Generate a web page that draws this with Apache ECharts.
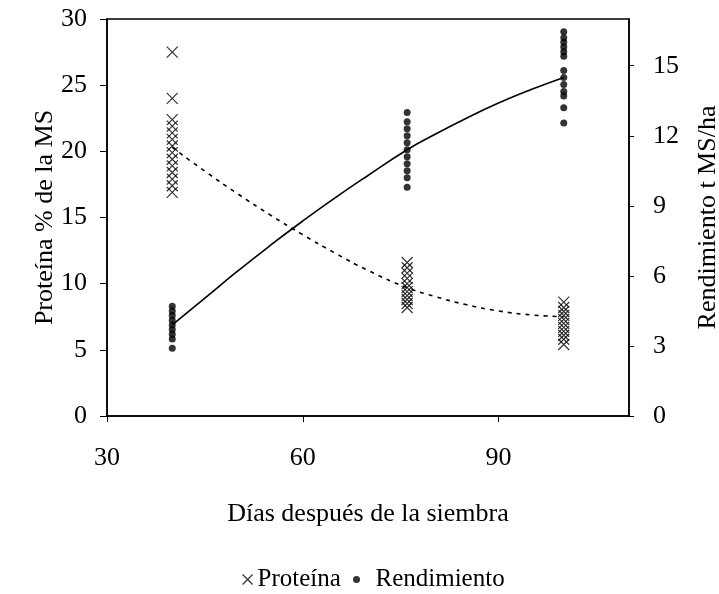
<!DOCTYPE html>
<html>
<head>
<meta charset="utf-8">
<script src="https://cdn.jsdelivr.net/npm/echarts@6/dist/echarts.min.js"></script>
<style>
  html, body { margin: 0; padding: 0; background: #fff; }
  #chart { width: 719px; height: 594px; }
</style>
</head>
<body>
<div id="chart"></div>
<script>
// Sampling days (x positions of the measurement clusters)
const days = [40, 76, 100];

// Crude protein, % of dry matter (left axis), one list per sampling day
const proteina40 = [27.5, 24.0, 22.4, 21.9, 21.4, 20.9, 20.4, 19.9, 19.4, 18.9, 18.4, 17.9, 17.4, 16.9];
const proteina76 = [11.6, 11.2, 10.8, 10.4, 10.0, 9.7, 9.4, 9.1, 8.8, 8.5, 8.2];
const proteina100 = [8.6, 8.2, 7.9, 7.6, 7.3, 7.0, 6.7, 6.4, 6.1, 5.8, 5.4];

// Dry-matter yield, t MS/ha (right axis)
const rendimiento40 = [4.7, 4.5, 4.3, 4.1, 3.9, 3.7, 3.5, 3.3, 2.9];
const rendimiento76 = [13.0, 12.6, 12.3, 12.0, 11.7, 11.4, 11.1, 10.8, 10.5, 10.2, 9.8];
const rendimiento100 = [16.45, 16.2, 16.0, 15.8, 15.6, 15.4, 14.8, 14.5, 14.2, 13.9, 13.7, 13.2, 12.55];

// Fitted trend curves
const trendDays = [40, 45, 50, 55, 60, 65, 70, 76, 80, 85, 90, 95, 100];
const proteinaTrend = [20.3, 18.5, 16.8, 15.2, 13.7, 12.3, 11.0, 9.7, 9.07, 8.42, 7.94, 7.64, 7.5];
const rendimientoTrend = [3.9, 5.05, 6.2, 7.3, 8.35, 9.35, 10.3, 11.4, 12.02, 12.74, 13.4, 13.98, 14.5];

// Axis tick values
const xTicks = [30, 60, 90];
const leftTicks = [0, 5, 10, 15, 20, 25, 30];
const rightTicks = [0, 3, 6, 9, 12, 15];

const toPoints = (groups) => {
  const pts = [];
  groups.forEach((vals, i) => vals.forEach(v => pts.push([days[i], v])));
  return pts;
};
const zip = (xs, ys) => xs.map((x, i) => [x, ys[i]]);

const FONT = '"Liberation Serif", "DejaVu Serif", serif';
const AXIS_FONT = 26;
const crossPath = 'path://M0,0L10,10M10,0L0,10';
const crossStyle = { color: 'transparent', borderColor: '#000', borderWidth: 1.2 };

const chart = echarts.init(document.getElementById('chart'), null, { renderer: 'canvas' });

chart.setOption({
  animation: false,
  backgroundColor: '#fff',
  textStyle: { fontFamily: FONT, color: '#000' },
  grid: {
    left: 107, right: 90, top: 19, bottom: 178,
    outerBoundsMode: 'none',
    containLabel: false,
    show: true, borderColor: '#000', borderWidth: 1.5, backgroundColor: 'transparent'
  },
  legend: [
    {
      left: 237, top: 562,
      itemWidth: 10, itemHeight: 10,
      textStyle: { fontFamily: FONT, fontSize: 25, color: '#000' },
      data: [{ name: 'Proteína', icon: crossPath, itemStyle: crossStyle }]
    },
    {
      left: 348, top: 562,
      itemWidth: 28, itemHeight: 7,
      textStyle: { fontFamily: FONT, fontSize: 25, color: '#000' },
      data: [{ name: 'Rendimiento', icon: 'circle', itemStyle: { color: '#000' } }]
    }
  ],
  xAxis: {
    type: 'value',
    min: 30, max: 110, interval: 30,
    name: 'Días después de la siembra',
    nameLocation: 'middle',
    nameGap: 85,
    nameTextStyle: { fontFamily: FONT, fontSize: AXIS_FONT, color: '#000' },
    axisLine: { show: true, lineStyle: { color: '#000', width: 1.5 } },
    axisTick: { show: true, length: 6, lineStyle: { color: '#000' } },
    axisLabel: {
      fontFamily: FONT, fontSize: AXIS_FONT, color: '#000', margin: 29,
      showMaxLabel: false,
      formatter: v => (xTicks.includes(v) ? String(v) : '')
    },
    splitLine: { show: false }
  },
  yAxis: [
    {
      type: 'value',
      min: 0, max: 30, interval: 5,
      name: 'Proteína % de la MS',
      nameLocation: 'middle',
      nameRotate: 90,
      nameGap: 49,
      nameMoveOverlap: false,
      nameTextStyle: { fontFamily: FONT, fontSize: AXIS_FONT, color: '#000' },
      axisLine: { show: true, lineStyle: { color: '#000', width: 1.5 } },
      axisTick: { show: true, length: 7, lineStyle: { color: '#000' } },
      axisLabel: {
        fontFamily: FONT, fontSize: AXIS_FONT, color: '#000', margin: 20,
        formatter: v => (leftTicks.includes(v) ? String(v) : '')
      },
      splitLine: { show: false }
    },
    {
      type: 'value',
      position: 'right',
      min: 0, max: 17, interval: 3,
      name: 'Rendimiento t MS/ha',
      nameLocation: 'middle',
      nameRotate: 90,
      nameGap: 66,
      nameTextStyle: { fontFamily: FONT, fontSize: AXIS_FONT, color: '#000' },
      axisLine: { show: true, lineStyle: { color: '#000', width: 1.5 } },
      axisTick: { show: true, length: 5, lineStyle: { color: '#000' } },
      axisLabel: {
        fontFamily: FONT, fontSize: AXIS_FONT, color: '#000', margin: 24,
        showMaxLabel: false,
        formatter: v => (rightTicks.includes(v) ? String(v) : '')
      },
      splitLine: { show: false }
    }
  ],
  series: [
    {
      name: 'Proteína',
      type: 'scatter',
      yAxisIndex: 0,
      symbol: crossPath,
      symbolSize: 11,
      itemStyle: crossStyle,
      data: toPoints([proteina40, proteina76, proteina100]),
      z: 3
    },
    {
      name: 'Rendimiento',
      type: 'scatter',
      yAxisIndex: 1,
      symbol: 'circle',
      symbolSize: 7,
      itemStyle: { color: '#000' },
      data: toPoints([rendimiento40, rendimiento76, rendimiento100]),
      z: 3
    },
    {
      name: 'Proteína tendencia',
      type: 'line',
      yAxisIndex: 0,
      smooth: true,
      showSymbol: false,
      lineStyle: { color: '#000', width: 1.6, type: [4, 5] },
      data: zip(trendDays, proteinaTrend),
      z: 2
    },
    {
      name: 'Rendimiento tendencia',
      type: 'line',
      yAxisIndex: 1,
      smooth: true,
      showSymbol: false,
      lineStyle: { color: '#000', width: 1.6 },
      data: zip(trendDays, rendimientoTrend),
      z: 2
    }
  ]
});
</script>
</body>
</html>
